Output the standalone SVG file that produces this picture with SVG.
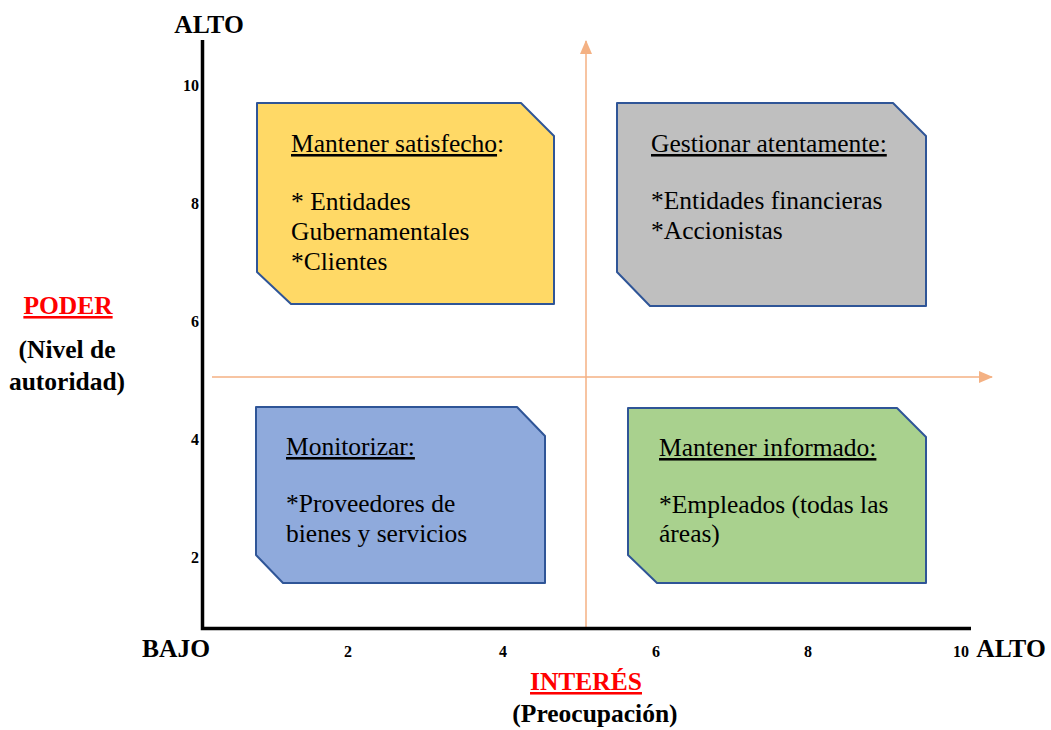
<svg xmlns="http://www.w3.org/2000/svg" width="1051" height="730" viewBox="0 0 1051 730">
  <defs>
    <marker id="arrow-orange" viewBox="0 0 14 12" refX="13" refY="6" markerWidth="14" markerHeight="12" markerUnits="userSpaceOnUse" orient="auto">
      <path d="M0,0 L14,6 L0,12 Z" fill="#F4B183"/>
    </marker>
    <style>
      .axis { fill: none; stroke: #000; stroke-width: 3.5; stroke-linejoin: miter; }
      .guide { fill: none; stroke: #F4B183; stroke-width: 1.5; }
      .box { stroke: #2F5597; stroke-width: 2; stroke-linejoin: round; }
      .txt { font-family: "Liberation Serif", "Times New Roman", serif; font-size: 25.5px; fill: #000; }
      .head { text-decoration: underline; }
      .lbl { font-family: "Liberation Serif", "Times New Roman", serif; font-weight: bold; font-size: 25.5px; fill: #000; }
      .red { fill: #FF0000; text-decoration: underline; }
      .tick { font-family: "Liberation Serif", "Times New Roman", serif; font-weight: bold; font-size: 16px; fill: #000; }
    </style>
  </defs>

  <rect width="1051" height="730" fill="#FFFFFF"/>

  <!-- axes and quadrant dividers -->
  <g id="connectors">
    <path class="guide" d="M586,628 V41" marker-end="url(#arrow-orange)"/>
    <path class="guide" d="M212,377 H992" marker-end="url(#arrow-orange)"/>
    <path class="axis" d="M202.5,40 V628.5 H971"/>
  </g>

  <!-- axis titles -->
  <g id="axis-labels">
    <text class="lbl" x="209" y="33" text-anchor="middle">ALTO</text>
    <text class="lbl" x="176" y="657" text-anchor="middle">BAJO</text>
    <text class="lbl" x="1011" y="657" text-anchor="middle">ALTO</text>
    <text class="lbl red" x="68" y="314" text-anchor="middle">PODER</text>
    <text class="lbl" x="67" y="358" text-anchor="middle">(Nivel de</text>
    <text class="lbl" x="67" y="390" text-anchor="middle">autoridad)</text>
    <text class="lbl red" x="586" y="690" text-anchor="middle">INTERÉS</text>
    <text class="lbl" x="595" y="722" text-anchor="middle">(Preocupación)</text>
  </g>

  <!-- scale numbers -->
  <g id="ticks">
    <text class="tick" x="199" y="91" text-anchor="end">10</text>
    <text class="tick" x="199" y="209" text-anchor="end">8</text>
    <text class="tick" x="199" y="327" text-anchor="end">6</text>
    <text class="tick" x="199" y="445" text-anchor="end">4</text>
    <text class="tick" x="199" y="563" text-anchor="end">2</text>
    <text class="tick" x="348" y="657" text-anchor="middle">2</text>
    <text class="tick" x="503" y="657" text-anchor="middle">4</text>
    <text class="tick" x="656" y="657" text-anchor="middle">6</text>
    <text class="tick" x="808" y="657" text-anchor="middle">8</text>
    <text class="tick" x="961" y="657" text-anchor="middle">10</text>
  </g>

  <!-- high power, low interest -->
  <g id="mantener-satisfecho">
    <path class="box" fill="#FFD966" d="M257,103 H521 L554,136 V304 H291 L257,272 Z"/>
    <text class="txt" x="291" y="152"><tspan class="head">Mantener satisfecho</tspan>:</text>
    <text class="txt" x="291" y="210">* Entidades</text>
    <text class="txt" x="291" y="240">Gubernamentales</text>
    <text class="txt" x="291" y="270">*Clientes</text>
  </g>

  <!-- high power, high interest -->
  <g id="gestionar-atentamente">
    <path class="box" fill="#BFBFBF" d="M617,103 H893 L926,136 V306 H650 L617,272 Z"/>
    <text class="txt head" x="651" y="152">Gestionar atentamente:</text>
    <text class="txt" x="651" y="209">*Entidades financieras</text>
    <text class="txt" x="651" y="239">*Accionistas</text>
  </g>

  <!-- low power, low interest -->
  <g id="monitorizar">
    <path class="box" fill="#8FAADC" d="M256,407 H517 L545,436 V583 H283 L256,555 Z"/>
    <text class="txt head" x="286" y="455">Monitorizar:</text>
    <text class="txt" x="286" y="512">*Proveedores de</text>
    <text class="txt" x="286" y="542">bienes y servicios</text>
  </g>

  <!-- low power, high interest -->
  <g id="mantener-informado">
    <path class="box" fill="#A9D18E" d="M628,408 H897 L926,437 V583 H657 L628,555 Z"/>
    <text class="txt head" x="659" y="456">Mantener informado:</text>
    <text class="txt" x="659" y="513">*Empleados (todas las</text>
    <text class="txt" x="659" y="542">áreas)</text>
  </g>
</svg>
